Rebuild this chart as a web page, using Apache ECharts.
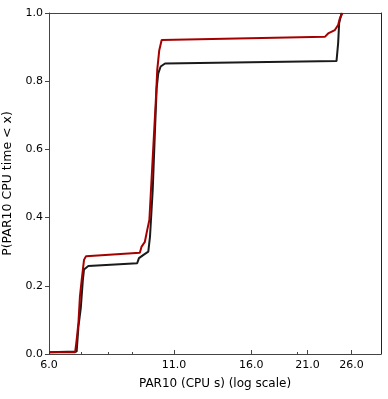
<!DOCTYPE html>
<html><head><meta charset="utf-8">
<script src="https://cdn.jsdelivr.net/npm/echarts@6/dist/echarts.min.js"></script>
<style>html,body{margin:0;padding:0;background:#fff}#c{width:388px;height:399px}</style>
</head><body><div id="c"></div>
<script>
// Black curve (x in CPU s, y = cumulative probability)
const blackX = [6.0, 6.86, 6.92, 7.00, 7.07, 7.11, 7.26, 9.20, 9.28, 9.47, 9.71, 9.79, 9.92, 10.03, 10.11, 10.19, 10.31, 10.53, 24.18, 24.37, 24.49, 24.78];
const blackY = [0.005, 0.007, 0.080, 0.135, 0.217, 0.248, 0.258, 0.266, 0.281, 0.290, 0.300, 0.344, 0.481, 0.657, 0.779, 0.823, 0.843, 0.852, 0.859, 0.911, 0.970, 1.0];
// Red curve
const redX = [6.0, 6.81, 6.86, 6.92, 6.97, 7.03, 7.11, 7.18, 9.32, 9.40, 9.55, 9.66, 9.76, 10.08, 10.14, 10.24, 10.36, 22.85, 23.22, 23.99, 24.37, 24.57, 24.90];
const redY = [0.005, 0.005, 0.041, 0.091, 0.168, 0.217, 0.276, 0.287, 0.297, 0.315, 0.329, 0.364, 0.393, 0.755, 0.833, 0.891, 0.921, 0.930, 0.940, 0.950, 0.965, 0.984, 1.0];
const xTicks = [6, 11, 16, 21, 26];
const xMinorTicks = [7, 8, 9, 20];
const yTicks = [0, 0.2, 0.4, 0.6, 0.8, 1.0];

const pair = (xs, ys) => xs.map((x, i) => [x, ys[i]]);
const font = 'DejaVu Sans';
const chart = echarts.init(document.getElementById('c'));
chart.setOption({
  animation: false,
  grid: {left: 49, right: 7, top: 13, bottom: 45, containLabel: false, outerBoundsMode: 'none', show: false},
  xAxis: [{
    type: 'log', logBase: Math.E, min: 6, max: 30,
    name: 'PAR10 (CPU s) (log scale)', nameLocation: 'middle', nameGap: 24,
    nameTextStyle: {fontFamily: font, fontSize: 12, color: '#000'},
    axisLine: {lineStyle: {color: '#444', width: 1}},
    axisTick: {show: true, inside: true, length: 4, customValues: xTicks, lineStyle: {color: '#444'}},
    axisLabel: {customValues: xTicks, fontFamily: font, fontSize: 11, color: '#000', margin: 6,
      formatter: v => Number(v).toFixed(1)},
    splitLine: {show: false}
  }, {
    type: 'log', logBase: Math.E, min: 6, max: 30, position: 'bottom',
    axisLine: {show: false},
    axisTick: {show: true, inside: true, length: 2, customValues: xMinorTicks, lineStyle: {color: '#444'}},
    axisLabel: {show: false, customValues: xMinorTicks},
    splitLine: {show: false}
  }, {
    type: 'log', logBase: Math.E, min: 6, max: 30, position: 'top',
    axisLine: {show: true, lineStyle: {color: '#444'}},
    axisTick: {show: false}, axisLabel: {show: false}, splitLine: {show: false}
  }],
  yAxis: [{
    type: 'value', min: 0, max: 1, interval: 0.2,
    name: 'P(PAR10 CPU time < x)', nameLocation: 'middle', nameGap: 31,
    nameTextStyle: {fontFamily: font, fontSize: 12.5, color: '#000'},
    axisLine: {show: true, lineStyle: {color: '#444'}},
    axisTick: {show: true, inside: false, length: 4, lineStyle: {color: '#444'}},
    axisLabel: {fontFamily: font, fontSize: 11, color: '#000', margin: 6, formatter: v => v.toFixed(1)},
    splitLine: {show: false}
  }, {
    type: 'value', min: 0, max: 1, position: 'right',
    axisLine: {show: true, lineStyle: {color: '#222'}},
    axisTick: {show: false}, axisLabel: {show: false}, splitLine: {show: false}
  }],
  series: [{
    type: 'line', xAxisIndex: 0, yAxisIndex: 0, data: pair(blackX, blackY),
    showSymbol: false, symbol: 'none', lineStyle: {color: '#1a1a1a', width: 2}, z: 2
  }, {
    type: 'line', xAxisIndex: 0, yAxisIndex: 0, data: pair(redX, redY),
    showSymbol: false, symbol: 'none', lineStyle: {color: '#a50000', width: 2}, z: 3
  }]
});
</script></body></html>
